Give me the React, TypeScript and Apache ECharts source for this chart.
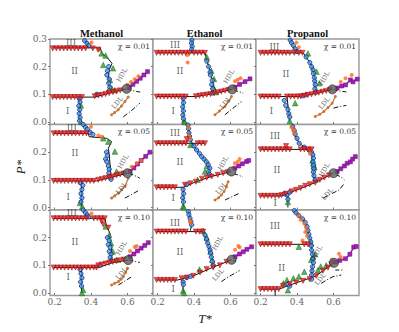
import React, { useEffect, useRef } from "react";
import * as echarts from "echarts";

// ---- panel meta ----
const titles = ["Methanol", "Ethanol", "Propanol"];
const chiLabels = ["χ = 0.01", "χ = 0.05", "χ = 0.10"];
const xTicks = [0.2, 0.4, 0.6];
const yTicksTop = [0.0, 0.1, 0.2, 0.3];
const yTicksOther = [0.0, 0.1, 0.2];

// ---- red down-triangles (one list per panel) ----
const redTri = [
  [[.19,.266],[.21,.266],[.23,.266],[.25,.266],[.27,.266],[.29,.266],[.31,.266],[.33,.266],[.35,.266],[.37,.266],[.41,.266],[.44,.262],
   [.19,.09],[.21,.09],[.23,.09],[.25,.09],[.27,.09],[.29,.09],[.31,.09],[.33,.09],[.35,.09],
   [.42,.093],[.44,.096],[.46,.098],[.48,.101],[.5,.104],[.52,.108],[.54,.111],[.56,.114]],
  [[.195,.25],[.215,.25],[.235,.25],[.255,.25],[.275,.25],[.295,.25],[.315,.25],[.335,.25],[.355,.25],[.375,.25],[.4,.25],[.42,.25],[.44,.25],[.46,.25],
   [.195,.092],[.215,.092],[.235,.092],[.255,.092],[.275,.092],[.295,.092],[.315,.092],[.335,.092],[.355,.092],
   [.41,.093],[.43,.095],[.45,.097],[.47,.099],[.49,.101],[.51,.104],[.53,.107],[.55,.11],[.57,.113],[.59,.116]],
  [[.2,.25],[.22,.25],[.24,.25],[.26,.25],[.28,.25],[.3,.25],[.32,.25],[.34,.25],[.36,.25],[.385,.25],[.41,.25],[.43,.25],
   [.2,.092],[.22,.092],[.24,.092],[.26,.092],[.28,.092],[.3,.092],[.345,.092],[.365,.092],[.385,.092],[.405,.092],
   [.42,.093],[.44,.095],[.46,.098],[.48,.1],[.5,.103],[.52,.106],[.54,.109],[.56,.112],[.58,.116]],
  [[.195,.268],[.215,.268],[.235,.268],[.255,.268],[.275,.268],[.295,.268],[.315,.268],[.335,.268],[.355,.268],[.375,.268],
   [.195,.096],[.215,.096],[.235,.096],[.255,.096],[.275,.096],[.295,.096],[.315,.096],[.335,.096],[.355,.096],[.375,.096],[.395,.096],[.415,.096],
   [.44,.1],[.46,.103],[.48,.106],[.5,.109],[.52,.112],[.54,.116],[.56,.12],[.58,.123]],
  [[.195,.232],[.215,.232],[.235,.232],[.255,.232],[.275,.232],[.295,.232],[.315,.232],[.335,.232],[.355,.232],[.36,.247],[.42,.232],[.44,.232],[.46,.232],
   [.195,.073],[.215,.073],[.235,.073],[.255,.073],[.275,.073],[.295,.073],
   [.35,.082],[.38,.087],[.41,.093],[.443,.104],[.47,.108],[.497,.112],[.53,.118],[.56,.124],[.585,.127]],
  [[.2,.21],[.22,.21],[.24,.21],[.26,.21],[.28,.21],[.3,.21],[.32,.21],[.34,.21],[.36,.21],[.42,.21],[.44,.21],[.46,.21],[.48,.21],[.34,.222],
   [.2,.042],[.22,.042],[.24,.042],[.26,.042],[.28,.042],[.3,.042],
   [.316,.045],[.34,.05],[.37,.058],[.395,.064],[.42,.07],[.445,.078],[.47,.084],[.5,.09],[.525,.1],[.55,.108],[.575,.116]],
  [[.195,.27],[.215,.27],[.235,.27],[.255,.27],[.275,.27],[.295,.27],[.315,.27],[.335,.27],[.355,.27],[.375,.27],[.415,.27],[.435,.27],[.455,.27],[.475,.27],
   [.458,.26],[.467,.248],[.495,.236],
   [.195,.092],[.215,.092],[.235,.092],[.255,.092],[.275,.092],[.295,.092],[.315,.092],[.335,.092],[.355,.092],[.375,.092],[.395,.092],[.415,.092],[.43,.092],
   [.44,.1],[.46,.103],[.48,.106],[.5,.109],[.52,.112],[.54,.115],[.56,.118],[.58,.121]],
  [[.195,.222],[.215,.222],[.235,.222],[.255,.222],[.275,.222],[.295,.222],[.315,.222],[.335,.222],[.355,.222],[.41,.222],[.43,.222],[.45,.222],
   [.195,.047],[.215,.047],[.235,.047],[.255,.047],[.275,.047],[.295,.047],
   [.332,.053],[.36,.056],[.396,.062],[.433,.074],[.469,.086],[.505,.092],[.542,.1],[.578,.113]],
  [[.2,.176],[.22,.176],[.24,.176],[.26,.176],[.28,.176],[.3,.176],[.32,.176],[.34,.176],[.36,.176],[.44,.176],[.46,.176],
   [.2,.014],[.22,.014],[.24,.014],[.26,.014],[.28,.014],[.3,.014],
   [.323,.026],[.36,.032],[.396,.038],[.433,.044],[.469,.05],[.506,.062],[.542,.08],[.57,.092],[.588,.104]],
];

// ---- black solid boundary lines (segments per panel) ----
const blackLines = [
  [[[.19,.268],[.45,.268],[.46,.248],[.49,.232],[.515,.212],[.5,.19],[.495,.16],[.5,.13],[.505,.11]],
   [[.19,.09],[.42,.09],[.5,.104],[.595,.12]], [[.385,.268],[.378,.284],[.36,.3]], [[.338,.09],[.338,0]]],
  [[[.195,.25],[.46,.25],[.478,.206],[.487,.188],[.496,.164],[.505,.14],[.505,.116],[.51,.1]],
   [[.195,.092],[.41,.092],[.5,.102],[.61,.118]], [[.39,.25],[.388,.3]], [[.341,.092],[.341,0]]],
  [[[.2,.25],[.434,.25],[.461,.224],[.479,.206],[.489,.182],[.498,.158],[.498,.128],[.507,.104]],
   [[.2,.092],[.42,.092],[.5,.103],[.594,.118]], [[.4,.25],[.38,.27],[.365,.3]], [[.345,.092],[.36,0]]],
  [[[.195,.268],[.385,.268],[.39,.256],[.486,.25],[.513,.238],[.495,.214],[.5,.19],[.505,.15],[.51,.1]],
   [[.195,.096],[.43,.096],[.5,.108],[.6,.124]], [[.41,.264],[.38,.282],[.357,.3]], [[.348,.096],[.348,0]]],
  [[[.195,.232],[.46,.232]], [[.195,.073],[.34,.073],[.41,.093],[.5,.113],[.605,.13]],
   [[.367,.3],[.375,.26],[.39,.232],[.414,.208],[.442,.184],[.46,.172],[.478,.16],[.487,.142],[.478,.124],[.496,.112]], [[.341,.073],[.341,0]]],
  [[[.2,.21],[.48,.21]], [[.2,.042],[.316,.042],[.4,.064],[.5,.09],[.6,.124]],
   [[.376,.3],[.39,.26],[.412,.232],[.45,.215],[.48,.2],[.49,.15],[.49,.113],[.5,.095]], [[.35,.042],[.35,0]]],
  [[[.195,.27],[.476,.27],[.486,.24],[.504,.216],[.504,.192],[.513,.168],[.513,.144],[.513,.12]],
   [[.195,.092],[.44,.092],[.52,.11],[.604,.119]], [[.387,.27],[.37,.288],[.357,.3]], [[.348,.092],[.348,0]]],
  [[[.195,.222],[.45,.222]], [[.195,.047],[.31,.047],[.4,.063],[.5,.092],[.606,.12]],
   [[.369,.3],[.378,.27],[.387,.246],[.38,.225]], [[.455,.222],[.464,.192],[.482,.168],[.491,.144],[.5,.114],[.509,.09]], [[.34,.047],[.34,0]]],
  [[[.2,.176],[.46,.176]], [[.2,.014],[.3,.014],[.4,.038],[.5,.06],[.603,.109]],
   [[.381,.3],[.408,.282],[.435,.264],[.454,.24],[.463,.216],[.472,.192],[.481,.156],[.49,.12],[.481,.083],[.481,.047]], [[.28,.014],[.28,-.01]]],
];

// ---- blue circles ----
const blueDots = [
  [[.365,.294],[.378,.284],[.388,.276],[.497,.2],[.49,.185],[.487,.17],[.5,.155],[.497,.14],[.503,.125],[.498,.112],[.432,.1],
   [.335,.085],[.34,.072],[.333,.058],[.338,.044],[.335,.03],[.34,.016],[.337,.004]],
  [[.388,.296],[.386,.285],[.39,.273],[.387,.262],[.47,.22],[.48,.2],[.488,.18],[.49,.17],[.5,.15],[.497,.135],[.503,.12],[.5,.105],
   [.34,.085],[.343,.07],[.338,.055],[.342,.04],[.339,.025],[.342,.012]],
  [[.363,.296],[.37,.286],[.38,.276],[.39,.264],[.4,.255],[.45,.235],[.47,.215],[.48,.2],[.488,.188],[.49,.175],[.495,.16],[.497,.148],[.5,.135],[.498,.12],[.505,.108],
   [.43,.095],[.45,.098],[.33,.078],[.338,.06],[.35,.045],[.355,.03],[.36,.018]],
  [[.357,.3],[.37,.29],[.38,.282],[.395,.272],[.41,.264],[.485,.2],[.49,.188],[.48,.175],[.487,.165],[.495,.15],[.5,.138],[.498,.125],[.505,.112],[.51,.102],
   [.34,.09],[.355,.08],[.35,.065],[.345,.05],[.35,.035],[.345,.02]],
  [[.367,.298],[.37,.285],[.372,.27],[.375,.258],[.38,.245],[.4,.222],[.414,.208],[.43,.195],[.442,.184],[.455,.175],[.468,.165],[.478,.155],[.487,.142],[.48,.13],[.485,.12],
   [.36,.083],[.34,.065],[.343,.05],[.338,.035],[.342,.02]],
  [[.376,.292],[.385,.278],[.39,.265],[.4,.25],[.412,.232],[.44,.218],[.465,.208],[.48,.2],[.487,.19],[.49,.178],[.488,.165],[.49,.152],[.492,.14],[.49,.128],[.493,.115],[.5,.1],
   [.33,.05],[.345,.045],[.36,.055],[.35,.03]],
  [[.357,.3],[.37,.29],[.38,.282],[.387,.275],[.49,.2],[.5,.19],[.495,.175],[.505,.165],[.5,.15],[.51,.14],[.505,.128],[.51,.118],[.45,.1],
   [.34,.085],[.345,.07],[.35,.055],[.343,.04],[.348,.025]],
  [[.369,.294],[.372,.283],[.378,.27],[.383,.258],[.387,.246],[.46,.21],[.468,.195],[.475,.18],[.482,.168],[.488,.155],[.491,.144],[.495,.13],[.5,.114],[.505,.1],
   [.36,.056],[.38,.06],[.34,.04],[.342,.03]],
  [[.385,.298],[.395,.29],[.41,.28],[.43,.268],[.445,.255],[.455,.24],[.46,.226],[.465,.212],[.47,.198],[.475,.185],[.478,.17],[.48,.155],[.485,.14],[.488,.125],[.49,.11],[.485,.095],[.482,.08],[.48,.065],[.48,.05],
   [.35,.032],[.36,.025]],
];

// ---- green triangles ----
const greenTri = [
  [[.458,.248],[.467,.206],[.521,.194],[.504,.152],[.513,.122],[.48,.24],[.53,.115],[.345,.06],[.345,.0]],
  [[.47,.235],[.495,.185],[.51,.155],[.505,.128],[.52,.108],[.345,.005],[.35,.0]],
  [[.46,.248],[.507,.182],[.523,.14],[.39,.068],[.36,.004]],
  [[.467,.25],[.495,.238],[.531,.202],[.54,.13],[.339,.016],[.352,.004]],
  [[.38,.226],[.47,.15],[.46,.13],[.42,.1],[.34,.005],[.345,0]],
  [[.485,.17],[.49,.16],[.492,.152],[.495,.145],[.5,.1],[.35,.02]],
  [[.48,.24],[.5,.21],[.51,.18],[.52,.15],[.54,.12],[.357,.011],[.35,.0]],
  [[.45,.225],[.47,.2],[.49,.15],[.5,.12],[.43,.085],[.34,.008],[.345,0]],
  [[.325,.035],[.345,.047],[.38,.053],[.41,.06],[.44,.077],[.478,.12],[.487,.13],[.515,.083],[.53,.096],[.41,.167],[.478,.18],[.5,.14],[.56,.1],[.35,.01]],
];

// ---- orange dots ----
const orangeDots = [
  [[.403,.287],[.44,.26],[.6,.135],[.62,.145],[.64,.155],[.66,.165],[.5,.11]],
  [[.363,.242],[.365,.215],[.625,.147],[.64,.153],[.655,.158]],
  [[.397,.287],[.41,.27],[.64,.145],[.666,.158],[.7,.17]],
  [[.44,.26],[.458,.256],[.4,.292],[.623,.147],[.65,.16],[.675,.17],[.51,.115]],
  [[.37,.29],[.372,.26],[.375,.25],[.624,.16],[.64,.165],[.65,.175]],
  [[.37,.29],[.38,.28],[.475,.21],[.47,.195],[.385,.268]],
  [[.403,.287],[.614,.152],[.64,.166],[.65,.17]],
  [[.378,.26],[.38,.255],[.625,.156],[.643,.17],[.65,.165]],
  [[.41,.28],[.42,.265],[.44,.25],[.45,.235],[.445,.22],[.455,.205],[.43,.19],[.63,.142],[.64,.13],[.59,.12]],
];

// ---- purple squares (HDL line) ----
const purpleLine = [
  [[.61,.126],[.63,.136],[.65,.147],[.67,.158],[.69,.17],[.71,.182]],
  [[.624,.126],[.65,.136],[.68,.146],[.707,.156]],
  [[.62,.123],[.645,.13],[.666,.134],[.693,.152],[.707,.145],[.73,.155]],
  [[.614,.13],[.635,.143],[.655,.157],[.675,.17],[.7,.185],[.723,.2]],
  [[.624,.142],[.645,.15],[.665,.158],[.688,.166],[.7,.17]],
  [[.62,.13],[.64,.14],[.66,.15],[.675,.16],[.693,.165],[.705,.175],[.72,.184]],
  [[.614,.131],[.635,.141],[.655,.152],[.675,.162],[.695,.172],[.714,.182]],
  [[.625,.131],[.65,.141],[.67,.149],[.69,.158],[.716,.167]],
  [[.611,.112],[.635,.118],[.666,.124],[.69,.14],[.711,.166],[.725,.168]],
];

// ---- critical points ----
const critPoint = [[.595,.12],[.61,.118],[.594,.118],[.6,.124],[.605,.13],[.6,.124],[.604,.119],[.606,.12],[.603,.109]];

// ---- dash-dot line right of critical point ----
const dashDot = [
  [[.6,.118],[.64,.112],[.67,.108]], [[.62,.115],[.645,.11],[.67,.104]], [[.6,.116],[.63,.113],[.675,.108]],
  [[.61,.122],[.632,.118],[.668,.106]], [[.62,.122],[.64,.118],[.668,.11]], [[.615,.118],[.637,.112],[.66,.1]],
  [[.61,.118],[.632,.116],[.668,.11]], [[.615,.117],[.63,.115]], [[.61,.083],[.63,.083],[.65,.083]],
];

// ---- LDL dashed black line ----
const ldlDash = [
  [[.577,.019],[.62,.04],[.668,.068]], [[.569,.026],[.61,.048],[.66,.074]], [[.6,.05],[.635,.056],[.67,.06]],
  [[.586,.034],[.625,.048],[.668,.064]], [[.57,.027],[.61,.04],[.652,.052]], [[.543,.034],[.59,.05],[.633,.064],[.66,.088]],
  [[.55,.029],[.59,.045],[.623,.059]], [[.55,.041],[.58,.055],[.606,.065],[.65,.081]], [[.533,.035],[.565,.048],[.597,.059],[.643,.065]],
];

// ---- brown LDL line ----
const brownLine = [
  [[.513,.026],[.53,.034],[.549,.044],[.567,.058],[.586,.074],[.604,.09]],
  [[.515,.026],[.54,.04],[.569,.056],[.59,.075],[.605,.092]],
  [[.5,.02],[.525,.028],[.547,.038],[.57,.052],[.593,.068],[.61,.092]],
  [[.513,.034],[.53,.042],[.55,.052],[.568,.064],[.586,.076],[.604,.106]],
  [[.515,.027],[.535,.035],[.55,.045],[.565,.058],[.578,.075],[.587,.093]],
  [],
  [[.513,.029],[.53,.035],[.55,.041],[.565,.05],[.577,.059],[.59,.074],[.6,.089]],
  [], [],
];

// ---- region / phase labels ----
const regionLabels = [
  [[.29,.285,"III"],[.31,.185,"II"],[.272,.04,"I"]],
  [[.296,.278,"III"],[.323,.186,"II"],[.286,.038,"I"]],
  [[.276,.272,"III"],[.339,.174,"II"],[.26,.038,"I"]],
  [[.294,.286,"III"],[.312,.196,"II"],[.275,.037,"I"]],
  [[.296,.268,"III"],[.323,.166,"II"],[.286,.034,"I"]],
  [[.28,.26,"III"],[.29,.136,"II"],[.28,.018,"I"]],
  [[.294,.288,"III"],[.312,.186,"II"],[.275,.058,"I"]],
  [[.296,.252,"III"],[.323,.149,"II"],[.286,.014,"I"]],
  [[.28,.242,"III"],[.316,.092,"II"]],
];
const hdlPos = [[.57,.17],[.592,.164],[.55,.158],[.577,.166],[.56,.16],[.55,.136],[.568,.162],[.53,.18],[.51,.146]];
const ldlPos = [[.545,.07],[.573,.07],[.55,.068],[.568,.07],[.55,.07],[.567,.048],[.568,.071],[.533,.065],[.528,.05]];

const COL_LEFT = [50, 153, 256];
const ROW_TOP = [39, 124.5, 210];
const PW = 103;
const PH = 85.5;
const SERIF = "'DejaVu Serif', serif";

function buildOption() {
  const grid: any[] = [];
  const xAxis: any[] = [];
  const yAxis: any[] = [];
  const series: any[] = [];
  const graphic: any[] = [];

  for (let r = 0; r < 3; r++) {
    for (let c = 0; c < 3; c++) {
      const p = r * 3 + c;
      grid.push({
        left: COL_LEFT[c], top: ROW_TOP[r], width: PW, height: PH,
        show: true, borderColor: "#9a9a9a", borderWidth: 1.4, backgroundColor: "#fff",
      });
      xAxis.push({
        gridIndex: p, type: "value", min: 0.175, max: 0.74,
        axisLine: { show: false }, splitLine: { show: false },
        axisTick: { show: true, customValues: xTicks, length: 2, lineStyle: { color: "#777" } },
        axisLabel: {
          show: r === 2, customValues: xTicks, formatter: (v: number) => v.toFixed(1),
          fontSize: 9, fontFamily: SERIF, color: "#666", margin: 2,
        },
      });
      const yt = r === 0 ? yTicksTop : yTicksOther;
      yAxis.push({
        gridIndex: p, type: "value", min: -0.009, max: 0.3,
        axisLine: { show: false }, splitLine: { show: false },
        axisTick: { show: true, customValues: yTicksTop, length: 2, lineStyle: { color: "#777" } },
        axisLabel: {
          show: c === 0, customValues: yt, formatter: (v: number) => v.toFixed(1),
          fontSize: 9, fontFamily: SERIF, color: "#666", margin: 3,
        },
      });
      const ax = { xAxisIndex: p, yAxisIndex: p, silent: true };

      blackLines[p].forEach((seg) =>
        series.push({ type: "line", ...ax, data: seg, symbol: "none", lineStyle: { color: "#111", width: 1 }, z: 2 })
      );
      series.push({ type: "line", ...ax, data: dashDot[p], symbol: "none", lineStyle: { color: "#111", width: 1, type: [4, 2, 1, 2] }, z: 2 });
      series.push({ type: "line", ...ax, data: ldlDash[p], symbol: "none", lineStyle: { color: "#111", width: 1, type: [5, 2, 1, 2] }, z: 2 });
      if (brownLine[p].length)
        series.push({
          type: "line", ...ax, data: brownLine[p], symbol: "circle", symbolSize: 3,
          itemStyle: { color: "#c8783a" }, lineStyle: { color: "#c8783a", width: 1.3 }, z: 3,
        });
      series.push({
        type: "line", ...ax, data: purpleLine[p], symbol: "rect", symbolSize: 4,
        itemStyle: { color: "#a020b8", borderColor: "#6a0f7a", borderWidth: 0.5 },
        lineStyle: { color: "#a020b8", width: 1.5 }, z: 3,
      });
      series.push({
        type: "scatter", ...ax, data: greenTri[p], symbol: "triangle", symbolSize: 5.5,
        itemStyle: { color: "#2ca02c", borderColor: "#0d4f0d", borderWidth: 0.5 }, z: 4,
      });
      series.push({
        type: "scatter", ...ax, data: blueDots[p], symbol: "circle", symbolSize: 4.3,
        itemStyle: { color: "#4a9be8", borderColor: "#0b1f6a", borderWidth: 0.9 }, z: 5,
      });
      series.push({
        type: "scatter", ...ax, data: orangeDots[p], symbol: "circle", symbolSize: 4,
        itemStyle: { color: "#ff6a1a" }, z: 5,
      });
      series.push({
        type: "scatter", ...ax, data: redTri[p], symbol: "triangle", symbolRotate: 180, symbolSize: 5.2,
        itemStyle: { color: "#ee1c1c", borderColor: "#7a0000", borderWidth: 0.5 }, z: 6,
      });
      series.push({
        type: "scatter", ...ax, data: [critPoint[p]], symbol: "circle", symbolSize: 9,
        itemStyle: { color: "#5c5c5c", borderColor: "#222", borderWidth: 0.8 }, z: 7,
      });
      const lab = regionLabels[p].map((d) => ({
        value: [d[0], d[1]],
        label: { formatter: d[2] as string, rotate: 0, fontSize: 8.5, color: "#333" },
      }));
      lab.push({ value: hdlPos[p], label: { formatter: "HDL", rotate: 60, fontSize: 6.5, color: "#333" } } as any);
      lab.push({ value: ldlPos[p], label: { formatter: "LDL", rotate: 50, fontSize: 6.5, color: "#333" } } as any);
      series.push({
        type: "scatter", ...ax, data: lab, symbolSize: 1, itemStyle: { color: "rgba(0,0,0,0)" },
        label: { show: true, position: "inside", fontFamily: SERIF }, z: 8,
      });

      graphic.push({
        type: "text", x: COL_LEFT[c] + PW - 3, y: ROW_TOP[r] + 3, z: 10,
        style: { text: chiLabels[r], fill: "#333", font: "7.5px " + SERIF, align: "right", verticalAlign: "top", textAlign: "right", textVerticalAlign: "top" },
      });
    }
  }
  for (let c = 0; c < 3; c++) {
    graphic.push({
      type: "text", x: COL_LEFT[c] + PW / 2, y: 33, z: 10,
      style: { text: titles[c], fill: "#111", font: "bold 10.5px 'Liberation Serif', serif", align: "center", verticalAlign: "middle", textAlign: "center", textVerticalAlign: "middle" },
    });
  }
  graphic.push({
    type: "text", x: 20, y: 167, rotation: Math.PI / 2, z: 10,
    style: { text: "P*", fill: "#222", font: "italic 13px 'Liberation Serif', serif", align: "center", verticalAlign: "middle", textAlign: "center", textVerticalAlign: "middle" },
  });
  graphic.push({
    type: "text", x: 205, y: 318, z: 10,
    style: { text: "T*", fill: "#222", font: "italic 13px 'Liberation Serif', serif", align: "center", verticalAlign: "middle", textAlign: "center", textVerticalAlign: "middle" },
  });

  return { animation: false, backgroundColor: "#fff", grid, xAxis, yAxis, series, graphic };
}

export default function App() {
  const ref = useRef<HTMLDivElement>(null);
  useEffect(() => {
    if (!ref.current) return;
    const chart = echarts.init(ref.current, undefined, { renderer: "svg" });
    chart.setOption(buildOption() as any);
    return () => chart.dispose();
  }, []);
  return <div ref={ref} style={{ position: "fixed", left: 0, top: 0, width: 399, height: 332 }} />;
}
